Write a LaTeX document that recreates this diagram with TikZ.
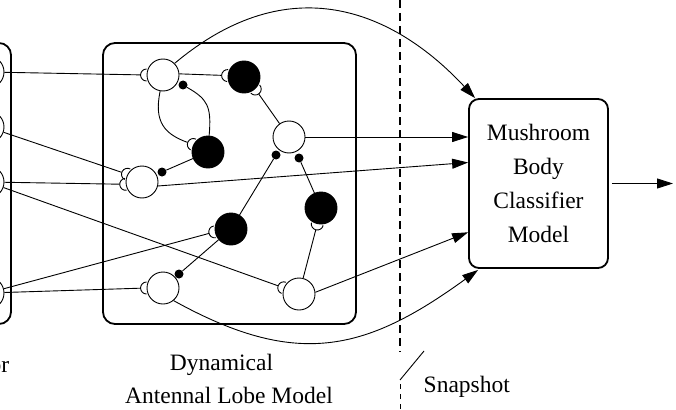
\documentclass[tikz,border=0pt]{standalone}
\usepackage{fontspec}
\setmainfont{Liberation Serif}
\usetikzlibrary{arrows.meta,calc}
\newcommand\synexc[3]{%
  \node[cupn] (#1) at (#2.#3) {};%
  \draw[wire] ($(#2.#3)+({#3+90}:6pt)$) arc[start angle={#3+90}, end angle={#3-90}, radius=6pt];%
}
\begin{document}
\begin{tikzpicture}[x=1pt,y=1pt,
  wire/.style={line width=0.9pt},
  neuron/.style={circle,draw,line width=0.9pt,minimum size=32pt,inner sep=0pt},
  excn/.style={neuron,fill=white},
  inhn/.style={neuron,fill=black},
  idot/.style={circle,fill=black,minimum size=9pt,inner sep=0pt},
  cupn/.style={circle,minimum size=12pt,inner sep=0pt},
  frame/.style={draw,line width=1.8pt,rounded corners=12pt,inner sep=0pt},
  arr/.style={wire,-{Triangle[length=16pt,width=10pt]}},
  lbl/.style={font=\fontsize{23.5}{34}\selectfont,inner sep=0pt}]
\useasboundingbox (0,0) rectangle (676,-409);
\clip (0,0) rectangle (676,-409);

% frames
\node[frame,minimum width=140pt,minimum height=281pt] (rbox) at (-59,-183.5) {};
\node[frame,minimum width=253pt,minimum height=281pt] (albox) at (229.5,-183.5) {};
\node[frame,lbl,minimum width=139pt,minimum height=169pt,align=center,rounded corners=10pt] (mb) at (538.5,-183.5) {Mushroom\\Body\\Classifier\\Model};

% receptors
\foreach \n/\y in {r1/72,r2/127,r3/182,r4/293} \node[excn] (\n) at (-12,-\y) {};

% neurons
\node[excn] (A) at (163,-75) {};
\node[inhn] (B) at (244,-77) {};
\node[excn] (C) at (142,-182) {};
\node[inhn] (D) at (208,-152) {};
\node[excn] (F) at (289,-137) {};
\node[inhn] (G) at (231,-229) {};
\node[inhn] (H) at (321,-208) {};
\node[excn] (J) at (163,-288) {};
\node[excn] (K) at (299,-294) {};

% inhibitory synapses
\node[idot] (dA) at (183,-85) {};
\node[idot] (dC) at (162,-172) {};
\node[idot] (dJ) at (179,-274) {};
\node[idot] (dF1) at (276,-155) {};
\node[idot] (dF2) at (299,-158) {};

% excitatory synapses
\synexc{cA}{A}{180}
\synexc{cB}{B}{175}
\synexc{cB2}{B}{-47}
\synexc{cD}{D}{153}
\synexc{cC1}{C}{152}
\synexc{cC2}{C}{188}
\synexc{cG}{G}{190}
\synexc{cJ}{J}{180}
\synexc{cK}{K}{158}
\synexc{cH}{H}{-103}

% wires
\draw[wire] (r1) -- (cA);
\draw[wire] (r2) -- (cC1);
\draw[wire] (r3) -- (cC2);
\draw[wire] (r3) -- (cK);
\draw[wire] (r4) -- (cG);
\draw[wire] (r4) -- (cJ);
\draw[wire] (A.4) -- (cB);
\draw[wire] (F) -- (cB2);
\draw[wire] (A.-100) .. controls +(-102:32) and +(160:30) .. (cD);
\draw[wire] (D.86) .. controls +(85:30) and +(-30:28) .. (dA);
\draw[wire] (D) -- (dC);
\draw[wire] (G) -- (dF1);
\draw[wire] (H) -- (dF2);
\draw[wire] (K) -- (cH);
\draw[wire] (G) -- (dJ);

% to classifier
\draw[arr] (A.45) .. controls +(40:150) and +(133:120) .. ([xshift=7pt]mb.north west);
\draw[arr] (F) -- (F -| mb.west);
\draw[arr] (C.-14) -- ([yshift=21pt]mb.west);
\draw[arr] (K.6) -- ([yshift=-48.8pt]mb.west);
\draw[arr] (J.-50) .. controls +(-29:140) and +(216:140) .. ([xshift=10pt,yshift=-1pt]mb.south west);
\coordinate (out) at (673,-183.5);
\draw[arr] ([xshift=3pt]mb.east) -- (out);

% snapshot
\coordinate (dtop) at (400,0);
\coordinate (dmid) at (400,-352);
\coordinate (dlow) at (400,-384);
\coordinate (dbot) at (400,-409);
\draw[line width=1.8pt,dash pattern=on 8pt off 5pt] (dtop) -- (dmid);
\draw[line width=0.9pt,dash pattern=on 5pt off 5pt] (dlow) -- (dbot);
\node[lbl,anchor=base west] (snap) at (423.5,-392) {Snapshot};
\coordinate (pA) at (400,-380);
\coordinate (pB) at (424,-351);
\draw[wire] (pA) -- (pB);

% labels
\node[lbl,anchor=base] (dyn) at (221.5,-370) {Dynamical};
\node[lbl,anchor=base] (aln) at (229,-403) {Antennal Lobe Model};
\node[lbl,anchor=base east] (rlbl) at (9.5,-372) {Receptor};
\end{tikzpicture}
\end{document}
